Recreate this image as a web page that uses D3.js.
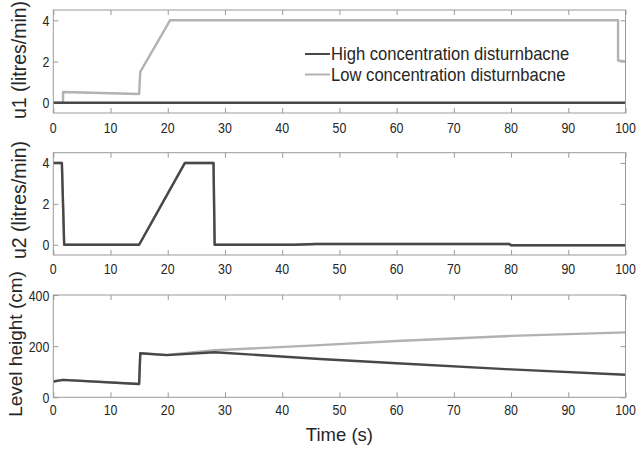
<!DOCTYPE html>
<html>
<head>
<meta charset="utf-8">
<script src="https://cdn.jsdelivr.net/npm/d3@7"></script>
<style>
  html, body { margin: 0; padding: 0; background: #fff; }
  svg { display: block; }
  text { font-family: "Liberation Sans", Arial, Helvetica, sans-serif; fill: #262626; }
</style>
</head>
<body>
<svg id="chart" width="639" height="451"></svg>
<script>
// Time axis ticks shared by all three panels
const timeTicks = [0, 10, 20, 30, 40, 50, 60, 70, 80, 90, 100];

// Panel 1: inlet flow u1 (litres/min)
const u1HighT = [0, 100];
const u1HighV = [0, 0];
const u1LowT = [0, 1.7, 1.7, 15, 15.2, 20.4, 98.7, 98.7, 100];
const u1LowV = [0, 0, 0.52, 0.42, 1.5, 4, 4, 2.05, 2.0];
const u1Ticks = [0, 2, 4];

// Panel 2: inlet flow u2 (litres/min)
const u2HighT = [0, 1.5, 1.9, 15, 23, 28, 28.2, 42, 46, 79.7, 80, 100];
const u2HighV = [4, 4, 0, 0, 4, 4, 0, 0, 0.04, 0.04, -0.02, -0.02];
const u2LowT = [0, 1.5, 1.9, 15, 23, 28, 28.2, 42, 46, 79.7, 80, 100];
const u2LowV = [4, 4, 0, 0, 4, 4, 0, 0, 0.04, 0.04, -0.02, -0.02];
const u2Ticks = [0, 2, 4];

// Panel 3: tank level height (cm)
const levelHighT = [0, 1.7, 15, 15.2, 19.8, 28.2, 46.6, 60, 80, 100];
const levelHighV = [62, 68, 52, 172, 165, 176, 150, 133, 109, 88];
const levelLowT = [0, 1.7, 15, 15.2, 19.8, 28.2, 46.6, 60, 80, 100];
const levelLowV = [62, 68, 52, 172, 166, 184, 204, 220, 240, 254];
const levelTicks = [0, 200, 400];

const seriesNames = ["High concentration disturnbacne", "Low concentration disturnbacne"];

const colHigh = "#484848";
const colLow = "#b2b2b2";
const boxCol = "#9a9a9a";

const svg = d3.select("#chart");
const x0 = 53.3, x1 = 625.5;

const panels = [
  { top: 10, bottom: 113, domain: [-0.5, 4.5], ticks: u1Ticks, label: "u1 (litres/min)", labelY: 60,
    labelX: 26, labelSize: 19.5,
    series: [[u1LowT, u1LowV, colLow], [u1HighT, u1HighV, colHigh]], tickLabelY: 133 },
  { top: 152.7, bottom: 255, domain: [-0.5, 4.5], ticks: u2Ticks, label: "u2 (litres/min)", labelY: 200,
    labelX: 26, labelSize: 19.5,
    series: [[u2LowT, u2LowV, colLow], [u2HighT, u2HighV, colHigh]], tickLabelY: 274 },
  { top: 295, bottom: 397.3, domain: [0, 400], ticks: levelTicks, label: "Level height (cm)", labelY: 344,
    labelX: 22, labelSize: 19,
    series: [[levelLowT, levelLowV, colLow], [levelHighT, levelHighV, colHigh]], tickLabelY: 415 }
];

const x = d3.scaleLinear().domain([0, 100]).range([x0, x1]);
const tickLen = 5;
const narrow = 0.8;

panels.forEach(p => {
  const y = d3.scaleLinear().domain(p.domain).range([p.bottom, p.top]);
  const g = svg.append("g");

  // inward ticks on all four sides
  const bottomAxis = d3.axisTop(x).tickValues(timeTicks).tickSize(tickLen).tickFormat("");
  const topAxis = d3.axisBottom(x).tickValues(timeTicks).tickSize(tickLen).tickFormat("");
  const leftAxis = d3.axisRight(y).tickValues(p.ticks).tickSize(tickLen).tickFormat("");
  const rightAxis = d3.axisLeft(y).tickValues(p.ticks).tickSize(tickLen).tickFormat("");
  [[bottomAxis, `translate(0,${p.bottom})`], [topAxis, `translate(0,${p.top})`],
   [leftAxis, `translate(${x0},0)`], [rightAxis, `translate(${x1},0)`]].forEach(([ax, tr]) => {
    const a = g.append("g").attr("transform", tr).call(ax);
    a.select(".domain").remove();
    a.selectAll("line").attr("stroke", boxCol).attr("stroke-width", 1);
  });

  // tick labels (narrow face)
  g.selectAll(".xl").data(timeTicks).enter().append("text")
    .attr("text-anchor", "middle").attr("font-size", 15.5)
    .attr("transform", d => `translate(${x(d)},${p.tickLabelY}) scale(${narrow},1)`)
    .text(d => d);
  g.selectAll(".yl").data(p.ticks).enter().append("text")
    .attr("text-anchor", "end").attr("font-size", 15.5)
    .attr("transform", d => `translate(${x0 - 4},${y(d) + 5.5}) scale(${narrow},1)`)
    .text(d => d);

  // data lines
  const line = d3.line().x(d => x(d[0])).y(d => y(d[1]));
  p.series.forEach(([t, v, c]) => {
    const pts = t.map((tt, i) => [tt, v[i]]);
    g.append("path").datum(pts).attr("d", line)
      .attr("fill", "none").attr("stroke", c).attr("stroke-width", 2.4)
      .attr("stroke-linejoin", "round");
  });

  // plot box
  g.append("rect").attr("x", x0).attr("y", p.top)
    .attr("width", x1 - x0).attr("height", p.bottom - p.top)
    .attr("fill", "none").attr("stroke", boxCol).attr("stroke-width", 1);

  // y-axis label
  g.append("text")
    .attr("transform", `translate(${p.labelX},${p.labelY}) rotate(-90)`)
    .attr("text-anchor", "middle").attr("font-size", p.labelSize)
    .text(p.label);
});

// legend
const legend = svg.append("g");
[[colHigh, seriesNames[0], 54], [colLow, seriesNames[1], 74.5]].forEach(([c, name, ly]) => {
  legend.append("line").attr("x1", 305).attr("x2", 330).attr("y1", ly).attr("y2", ly)
    .attr("stroke", c).attr("stroke-width", 2);
  legend.append("text").attr("font-size", 17.5)
    .attr("transform", `translate(331,${ly + 6.3}) scale(0.95,1)`)
    .text(name);
});

// x-axis title
svg.append("text").attr("x", (x0 + x1) / 2).attr("y", 440.5)
  .attr("text-anchor", "middle").attr("font-size", 18.5).text("Time (s)");
</script>
</body>
</html>
